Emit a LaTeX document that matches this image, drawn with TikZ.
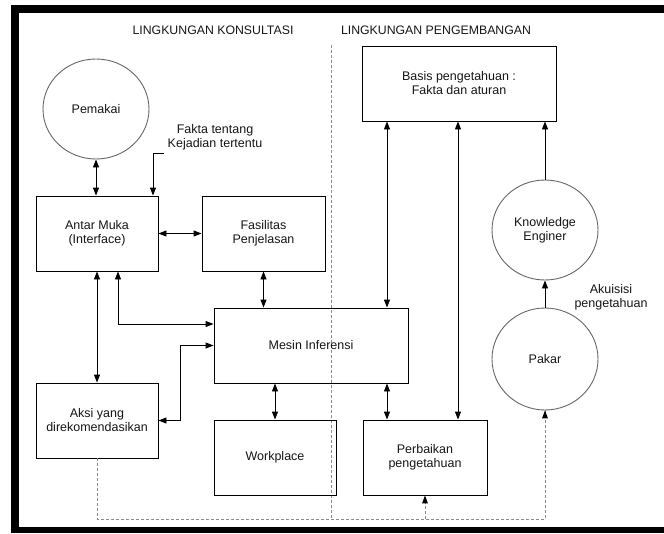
\documentclass[tikz,border=0pt]{standalone}
\usepackage{fontspec}
\setmainfont{Liberation Sans}
\usetikzlibrary{arrows.meta,shapes.geometric,calc}
\definecolor{txt}{HTML}{151515}
\definecolor{circ}{HTML}{666666}
\definecolor{dash}{HTML}{8A8A8A}
\tikzset{
  box/.style={draw=black,line width=0.9pt,rectangle,inner sep=0pt,align=center,text=txt,
    font=\fontsize{12.5}{14}\selectfont},
  circnode/.style={draw=circ,line width=0.9pt,ellipse,inner sep=0pt,align=center,text=txt,
    font=\fontsize{12.5}{14}\selectfont},
  lbl/.style={align=center,text=txt,inner sep=0pt,font=\fontsize{12.5}{14}\selectfont},
  ttl/.style={text=txt,inner sep=0pt,font=\fontsize{12.3}{14}\selectfont},
  dbl/.style={line width=0.9pt,{Triangle[length=8pt,width=6pt]}-{Triangle[length=8pt,width=6pt]}},
  arr/.style={line width=0.9pt,-{Triangle[length=8pt,width=6pt]}},
  dsh/.style={draw=dash,line width=0.8pt,dash pattern=on 3pt off 2pt},
}
\begin{document}
\begin{tikzpicture}[x=1pt,y=-1pt]
\useasboundingbox (0,0) rectangle (664,533);
% frame
\fill[black] (11,5) rectangle (664,13);
\fill[black] (11,5) rectangle (19,533);
\fill[black] (11,527) rectangle (664,533);

% titles
\node[ttl] (t1) at (213,30) {LINGKUNGAN KONSULTASI};
\node[ttl] (t2) at (436,30) {LINGKUNGAN PENGEMBANGAN};

% separator
\coordinate (s1) at (331,45);
\coordinate (s2) at (331,519);
\draw[dsh] (s1) -- (s2);

% nodes
\node[circnode,minimum width=106pt,minimum height=100pt] (pem) at (96,109) {Pemakai};
\node[box,minimum width=122pt,minimum height=75pt] (ant) at (97,233.5) {Antar Muka\\(Interface)};
\node[box,minimum width=123pt,minimum height=75pt] (fas) at (263.5,233.5) {Fasilitas\\Penjelasan};
\node[box,minimum width=194pt,minimum height=75pt] (mes) at (311,345.5) {Mesin Inferensi};
\node[box,minimum width=122pt,minimum height=75pt] (aks) at (97,420.5) {Aksi yang\\direkomendasikan};
\node[box,minimum width=122pt,minimum height=75pt] (wrk) at (275,457.5) {Workplace};
\node[box,minimum width=124pt,minimum height=75pt] (per) at (425,457.5) {Perbaikan\\pengetahuan};
\node[box,minimum width=194pt,minimum height=75pt] (bas) at (459,83.5) {Basis pengetahuan :\\Fakta dan aturan};
\node[circnode,minimum width=106pt,minimum height=100pt] (kno) at (545,230) {Knowledge\\Enginer};
\node[circnode,minimum width=106pt,minimum height=102pt] (pak) at (545,359) {Pakar};

% labels
\node[lbl] (fakta) at (215,137) {Fakta tentang\\Kejadian tertentu};
\node[lbl] (akui) at (611,297.5) {Akuisisi\\pengetahuan};

% connectors
\draw[dbl] (pem.south) -- (pem.south |- ant.north);
\coordinate (fk) at (164,153);
\draw[arr] (fk) -| ([xshift=56pt]ant.north);
\draw[dbl] (ant.east) -- (fas.west);
\draw[dbl] (fas.south) -- (fas.south |- mes.north);
\draw[dbl] ([xshift=21pt]ant.south) |- ([yshift=21.5pt]mes.west);
\draw[dbl] (ant.south) -- (aks.north);
\draw[dbl] (aks.east) -- ++(22,0) |- (mes.west);
\draw[dbl] (mes.south -| wrk.north) -- (wrk.north);
\draw[dbl] ([xshift=-38pt]per.north) -- ([xshift=-38pt]per.north |- mes.south);
\draw[dbl] ([xshift=-72pt]bas.south) -- ([xshift=-72pt]bas.south |- mes.north);
\draw[dbl] ([xshift=-1pt]bas.south) -- ([xshift=-1pt]bas.south |- per.north);
\draw[arr] (kno.north) -- (kno.north |- bas.south);
\draw[arr] (pak.north) -- (kno.south);

% dashed feedback
\draw[dsh] (aks.south) -- ++(0,61) -| (pak.south);
\fill[black] (pak.south) -- ++(-3,8) -- ++(6,0) -- cycle;
\coordinate (pb) at (425,519);
\draw[dsh] (pb) -- ([yshift=-8pt]per.south);
\fill[black] (per.south) -- ++(-3,8) -- ++(6,0) -- cycle;
\end{tikzpicture}
\end{document}
